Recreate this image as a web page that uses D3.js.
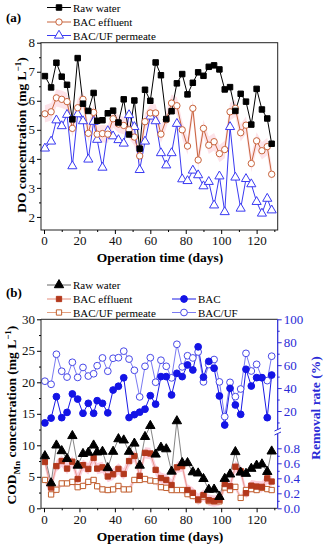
<!DOCTYPE html>
<html>
<head>
<meta charset="utf-8">
<script src="https://cdn.jsdelivr.net/npm/d3@7"></script>
<style>
    body { margin: 0; background: #fff; }
    svg { display: block; font-family: "Liberation Serif", "Times New Roman", serif; }
</style>
</head>
<body>
<svg id="chart" width="324" height="550"></svg>
<script>
// sampling days, shared by both panels
const days = [0.5, 4, 7, 10, 13, 16, 19, 22, 25, 28, 30, 33, 36, 39, 42, 45, 48, 51, 54, 57, 60, 63, 66, 69, 72, 75, 78, 81, 84, 87, 90, 93, 96, 99, 102, 105, 108, 111, 114, 117, 120, 123, 126, 128.5];

// panel (a): DO, mg/L
const doRaw = [6.85, 6.46, 7.31, 6.83, 6.55, 5.36, 7.47, 5.9, 5.65, 6.27, 5.31, 5.33, 5.57, 5.66, 5.25, 6.05, 4.84, 6.01, 4.35, 6.38, 6.0, 7.32, 6.88, 5.37, 5.64, 6.6, 6.92, 6.22, 6.62, 6.98, 6.86, 7.17, 7.22, 7.08, 6.39, 6.47, 5.65, 6.24, 5.97, 5.18, 6.41, 5.7, 5.39, 4.52];
const doBac = [5.55, 5.62, 6.1, 6.05, 5.97, 5.05, 5.76, 6.05, 4.88, 5.6, 4.85, 4.87, 4.85, 5.38, 5.2, 5.15, 5.0, 4.75, 4.1, 5.28, 5.58, 5.58, 4.85, 5.35, 5.92, 5.83, 5.0, 4.44, 5.74, 3.96, 5.05, 4.47, 4.59, 4.18, 4.32, 5.62, 5.74, 4.9, 5.16, 3.84, 4.62, 4.28, 4.42, 3.47];
const doUf = [4.36, 4.6, 5.33, 5.13, 5.52, 3.75, 5.54, 5.3, 3.98, 5.28, 4.66, 3.7, 4.96, 4.78, 4.65, 4.53, 5.51, 5.1, 3.62, 4.6, 5.46, 5.3, 4.2, 3.78, 4.2, 5.21, 3.3, 3.24, 3.6, 3.44, 3.06, 3.21, 2.4, 3.4, 2.17, 5.1, 3.36, 2.29, 3.31, 3.13, 2.52, 2.12, 2.63, 2.23];

// panel (b): COD_Mn, mg/L
const codRaw = [8.3, 4.0, 10.0, 9.1, 7.85, 11.5, 6.8, 8.65, 8.85, 10.0, 8.9, 9.0, 6.4, 9.0, 11.0, 10.8, 9.0, 10.3, 6.8, 11.35, 13.1, 8.56, 9.65, 9.4, 5.85, 13.85, 7.2, 7.2, 5.75, 5.56, 4.68, 2.97, 3.0, 1.83, 4.7, 5.4, 8.95, 5.7, 5.5, 6.3, 6.8, 7.0, 5.8, 9.05];
const codBac = [7.35, 3.3, 6.7, 7.5, 6.3, 7.4, 4.65, 6.85, 6.25, 8.0, 6.3, 6.5, 5.05, 5.4, 6.25, 5.45, 7.5, 8.3, 5.15, 8.8, 8.7, 6.1, 4.8, 4.5, 3.7, 6.5, 6.7, 2.9, 2.45, 1.4, 2.1, 1.3, 1.15, 1.3, 3.85, 3.5, 6.6, 5.9, 2.4, 3.6, 3.45, 3.4, 4.75, 4.25];
const codUf = [4.5, 2.2, 2.95, 3.95, 3.95, 4.2, 3.35, 3.55, 4.2, 4.5, 3.5, 3.0, 2.9, 3.0, 3.55, 3.0, 3.0, 4.5, 4.5, 4.65, 4.4, 4.3, 3.35, 3.25, 2.9, 2.9, 2.9, 2.25, 1.95, 1.3, 1.85, 1.15, 1.1, 1.1, 3.3, 2.9, 3.4, 1.65, 2.9, 3.05, 2.9, 3.25, 3.05, 2.9];

// panel (b): removal rate, %
const remBac = [9.6, 13.8, 32.5, 14.2, 18.8, 34.9, 30.4, 18, 26.7, 18, 29, 26.7, 18.4, 38.3, 41.6, 49, 14.3, 16.8, 19, 21.6, 33.4, 26, 50, 50, 34, 52.9, 50, 60.2, 55.8, 76, 49.5, 63.3, 57.3, 33.1, 7.8, 39.8, 25.3, 17.1, 56.4, 41.8, 49.1, 49.1, 14.2, 51.4];
const remUf = [46, 43.3, 69.5, 54.7, 49.6, 62.5, 49.3, 58, 50.5, 52.5, 59.5, 66.3, 54.7, 66, 66.5, 72.2, 65.3, 55.5, 32.3, 59, 66.5, 45.1, 64.3, 59, 48.9, 78.2, 58.5, 68.2, 66.3, 71.5, 45.4, 60.5, 64.9, 45.4, 15.1, 45, 32.5, 39.2, 70.3, 54.9, 60.7, 49, 46.5, 67.8];

const xTicks = [0, 20, 40, 60, 80, 100, 120];
const xMinor = [10, 30, 50, 70, 90, 110, 130];
const doTicks = [2, 3, 4, 5, 6, 7, 8];
const codTicks = [0, 5, 10, 15, 20, 25, 30];
const remTicksHi = [20, 40, 60, 80, 100];
const remTicksLo = [0, 0.2, 0.4, 0.6, 0.8];

(function () {

    const svg = d3.select("#chart");
    const BLUE = "#2a2ad6";

    const zip = vals => days.map((d, i) => ({ x: d, y: vals[i] }));

    function styleAxis(g) {
        g.attr("font-family", null).attr("font-size", 13);
        g.select(".domain").remove();
        g.selectAll(".tick text").attr("fill", "#111");
        return g;
    }

    function markers(g, data, x, y, type, size, fill, stroke) {
        g.append("g")
            .selectAll("path")
            .data(data)
            .enter()
            .append("path")
            .attr("transform", d => `translate(${x(d.x)},${y(d.y)})`)
            .attr("d", d3.symbol().type(type).size(size))
            .attr("fill", fill)
            .attr("stroke", stroke)
            .attr("stroke-width", 1);
    }

    function line(g, data, x, y, color, w) {
        g.append("path")
            .datum(data)
            .attr("fill", "none")
            .attr("stroke", color)
            .attr("stroke-width", w)
            .attr("d", d3.line().x(d => x(d.x)).y(d => y(d.y)));
    }

    function band(g, data, x, y, half, color) {
        g.append("path")
            .datum(data)
            .attr("fill", color)
            .attr("d", d3.area().x(d => x(d.x)).y0(d => y(d.y - half)).y1(d => y(d.y + half)));
    }

    function legendRow(g, x0, yc, label, type, size, fill, stroke, lineColor) {
        g.append("line").attr("x1", x0).attr("x2", x0 + 24).attr("y1", yc).attr("y2", yc)
            .attr("stroke", lineColor).attr("stroke-width", 1);
        g.append("path").attr("transform", `translate(${x0 + 12},${yc})`)
            .attr("d", d3.symbol().type(type).size(size))
            .attr("fill", fill).attr("stroke", stroke);
        g.append("text").attr("x", x0 + 26).attr("y", yc + 4).attr("font-size", 11).text(label);
    }

    function xAxis(g, x, yb) {
        styleAxis(g.append("g").attr("transform", `translate(0,${yb})`)
            .call(d3.axisBottom(x).tickValues(xTicks).tickSize(4).tickPadding(2).tickFormat(d3.format("d"))));
        styleAxis(g.append("g").attr("transform", `translate(0,${yb})`)
            .call(d3.axisBottom(x).tickValues(xMinor.filter(v => v < x.domain()[1])).tickSize(2).tickFormat("")));
    }

    // ---------- panel (a) ----------
    const xA = d3.scaleLinear().domain([-1.7, 131.9]).range([41, 277.7]);
    const yA = d3.scaleLinear().domain([1.55, 8]).range([230, 42.7]);
    const a = svg.append("g");

    band(a, zip(doBac), xA, yA, 0.3, "#fde3e9");
    line(a, zip(doUf), xA, yA, "#3a3af2", 1);
    line(a, zip(doBac), xA, yA, "#c8643c", 1);
    line(a, zip(doRaw), xA, yA, "#000", 1);
    markers(a, zip(doUf), xA, yA, d3.symbolTriangle, 36, "#fff", "#3a3af2");
    markers(a, zip(doBac), xA, yA, d3.symbolCircle, 32, "#fff", "#c8643c");
    markers(a, zip(doRaw), xA, yA, d3.symbolSquare, 30, "#000", "#000");

    a.append("rect").attr("x", 41).attr("y", 42.7).attr("width", 236.7).attr("height", 187.3)
        .attr("fill", "none").attr("stroke", "#222").attr("stroke-width", 1);

    styleAxis(a.append("g").attr("transform", "translate(41,0)")
        .call(d3.axisLeft(yA).tickValues(doTicks).tickSize(4).tickPadding(2).tickFormat(d3.format("d"))));
    styleAxis(a.append("g").attr("transform", "translate(41,0)")
        .call(d3.axisLeft(yA).tickValues([2.5, 3.5, 4.5, 5.5, 6.5, 7.5]).tickSize(2).tickFormat("")));
    xAxis(a, xA, 230);

    a.append("text").attr("x", 160).attr("y", 262).attr("text-anchor", "middle")
        .attr("font-weight", "bold").attr("font-size", 13.5).text("Operation time (days)");
    const ta = a.append("text").attr("transform", "translate(26,135) rotate(-90)")
        .attr("text-anchor", "middle").attr("font-weight", "bold").attr("font-size", 13.5);
    ta.append("tspan").text("DO concentration (mg L");
    ta.append("tspan").attr("dy", -5).attr("font-size", 9).text("\u22121");
    ta.append("tspan").attr("dy", 5).text(")");

    a.append("text").attr("x", 6).attr("y", 22).attr("font-weight", "bold").attr("font-size", 13).text("(a)");
    legendRow(a, 47, 7.5, "Raw water", d3.symbolSquare, 30, "#000", "#000", "#000");
    legendRow(a, 47, 22, "BAC effluent", d3.symbolCircle, 32, "#fff", "#c8643c", "#c8643c");
    legendRow(a, 47, 35.5, "BAC/UF permeate", d3.symbolTriangle, 36, "#fff", "#3a3af2", "#3a3af2");

    // ---------- panel (b) ----------
    const xB = xA.copy();
    const yB = d3.scaleLinear().domain([0, 30]).range([508.3, 319.3]);
    const yR = d3.scaleLinear().domain([5, 100]).range([428.2, 319.3]);
    const yRlo = d3.scaleLinear().domain([0, 0.9]).range([508.3, 440.8]);
    const b = svg.append("g");

    band(b, zip(codBac), xB, yB, 0.9, "#fbd0de");
    band(b, zip(codUf), xB, yB, 0.5, "#fbd0de");
    line(b, zip(remUf), xB, yR, "#7a7af2", 1);
    line(b, zip(remBac), xB, yR, "#1a1ae6", 1);
    line(b, zip(codRaw), xB, yB, "#666", 0.8);
    line(b, zip(codUf), xB, yB, "#e3a080", 0.8);
    line(b, zip(codBac), xB, yB, "#e58a78", 0.8);
    markers(b, zip(remUf), xB, yR, d3.symbolCircle, 36, "#fff", "#4848e8");
    markers(b, zip(remBac), xB, yR, d3.symbolCircle, 36, "#1414e6", "#1414e6");
    markers(b, zip(codUf), xB, yB, d3.symbolSquare, 28, "#fff", "#c0602e");
    markers(b, zip(codBac), xB, yB, d3.symbolSquare, 28, "#b3381c", "#b3381c");
    markers(b, zip(codRaw), xB, yB, d3.symbolTriangle, 38, "#000", "#000");

    // frame: black on three sides, blue broken axis on the right
    b.append("path").attr("d", "M277.7,319.3H41V508.3H277.7")
        .attr("fill", "none").attr("stroke", "#222").attr("stroke-width", 1);
    b.append("line").attr("x1", 277.7).attr("x2", 277.7).attr("y1", 319.3).attr("y2", 429.5)
        .attr("stroke", BLUE).attr("stroke-width", 1.2);
    b.append("line").attr("x1", 277.7).attr("x2", 277.7).attr("y1", 434).attr("y2", 508.3)
        .attr("stroke", BLUE).attr("stroke-width", 1.2);
    [429.5, 433.5].forEach(yy => b.append("line")
        .attr("x1", 274.5).attr("x2", 281).attr("y1", yy + 1.5).attr("y2", yy - 1.5)
        .attr("stroke", BLUE).attr("stroke-width", 1));

    styleAxis(b.append("g").attr("transform", "translate(41,0)")
        .call(d3.axisLeft(yB).tickValues(codTicks).tickSize(4).tickPadding(2).tickFormat(d3.format("d"))));
    styleAxis(b.append("g").attr("transform", "translate(41,0)")
        .call(d3.axisLeft(yB).tickValues([2.5, 7.5, 12.5, 17.5, 22.5, 27.5]).tickSize(2).tickFormat("")));
    xAxis(b, xB, 508.3);

    const rHi = styleAxis(b.append("g").attr("transform", "translate(277.7,0)")
        .call(d3.axisRight(yR).tickValues(remTicksHi).tickSize(4).tickPadding(2).tickFormat(d3.format("d"))));
    const rHiM = styleAxis(b.append("g").attr("transform", "translate(277.7,0)")
        .call(d3.axisRight(yR).tickValues([10, 30, 50, 70, 90]).tickSize(2).tickFormat("")));
    const rLo = styleAxis(b.append("g").attr("transform", "translate(277.7,0)")
        .call(d3.axisRight(yRlo).tickValues(remTicksLo).tickSize(4).tickPadding(2).tickFormat(d3.format(".1f"))));
    const rLoM = styleAxis(b.append("g").attr("transform", "translate(277.7,0)")
        .call(d3.axisRight(yRlo).tickValues([0.1, 0.3, 0.5, 0.7]).tickSize(2).tickFormat("")));
    [rHi, rHiM, rLo, rLoM].forEach(g => {
        g.selectAll(".tick line").attr("stroke", BLUE);
        g.selectAll(".tick text").attr("fill", BLUE);
    });

    b.append("text").attr("x", 160).attr("y", 541).attr("text-anchor", "middle")
        .attr("font-weight", "bold").attr("font-size", 13.5).text("Operation time (days)");
    const tb = b.append("text").attr("transform", "translate(16,415) rotate(-90)")
        .attr("text-anchor", "middle").attr("font-weight", "bold").attr("font-size", 13.5);
    tb.append("tspan").text("COD");
    tb.append("tspan").attr("dy", 4).attr("font-size", 9).text("Mn");
    tb.append("tspan").attr("dy", -4).text(" concentration (mg L");
    tb.append("tspan").attr("dy", -5).attr("font-size", 9).text("\u22121");
    tb.append("tspan").attr("dy", 5).text(")");
    b.append("text").attr("transform", "translate(320,408) rotate(-90)")
        .attr("text-anchor", "middle").attr("font-weight", "bold").attr("font-size", 13.5)
        .attr("fill", BLUE).text("Removal rate (%)");

    b.append("text").attr("x", 6).attr("y", 297).attr("font-weight", "bold").attr("font-size", 13).text("(b)");
    legendRow(b, 47, 285, "Raw water", d3.symbolTriangle, 38, "#000", "#000", "#666");
    legendRow(b, 47, 299, "BAC effluent", d3.symbolSquare, 28, "#b3381c", "#b3381c", "#e58a78");
    legendRow(b, 47, 312.5, "BAC/UF permeate", d3.symbolSquare, 28, "#fff", "#c0602e", "#e3a080");
    legendRow(b, 172, 299, "BAC", d3.symbolCircle, 36, "#1414e6", "#1414e6", "#1a1ae6");
    legendRow(b, 172, 312.5, "BAC/UF", d3.symbolCircle, 36, "#fff", "#4848e8", "#7a7af2");

})();
</script>
</body>
</html>
